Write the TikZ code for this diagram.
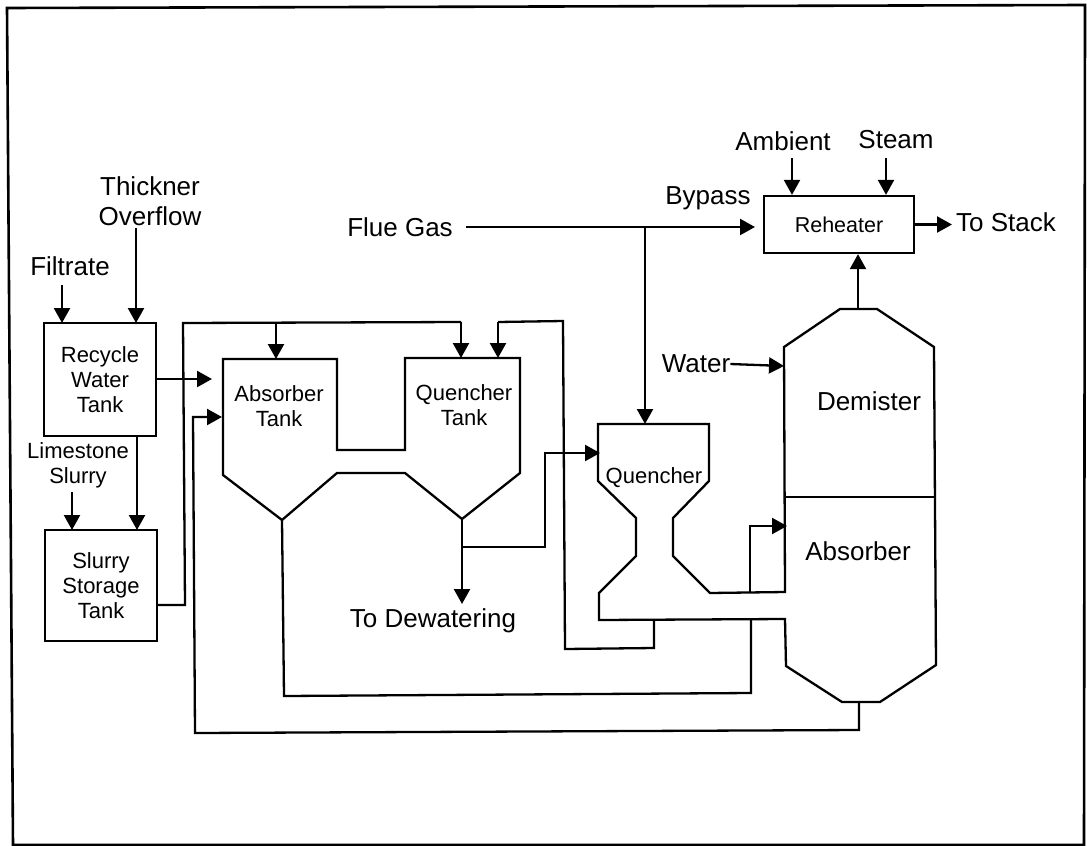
\documentclass[tikz,border=0pt]{standalone}
\usepackage{fontspec}
\setmainfont{Liberation Sans}
\usetikzlibrary{arrows.meta}

\tikzset{
  flow/.style={line width=2.3pt,-{Triangle[length=15pt,width=16pt]}},
  pipe/.style={line width=2.3pt,line join=miter},
  vessel/.style={line width=2.3pt,line join=miter},
  biglabel/.style={inner sep=0pt,align=center,font=\fontsize{26}{30}\selectfont},
  smalllabel/.style={inner sep=0pt,align=center,font=\fontsize{22}{25}\selectfont},
  unitbox/.style={draw,line width=2.3pt,inner sep=0pt,smalllabel},
}

\begin{document}
\begin{tikzpicture}[x=1pt,y=-1pt]
  \useasboundingbox (0,0) rectangle (1087,846);
  % frame
  \draw[line width=2.6pt] (7,8) -- (1085,5) -- (1084,845) -- (13,845) -- cycle;

  % boxes
  \node[unitbox,minimum width=112pt,minimum height=113pt] (recycle) at (100,379.5) {Recycle\\Water\\Tank};
  \node[unitbox,minimum width=112pt,minimum height=111pt] (storage) at (101,585.5) {Slurry\\Storage\\Tank};
  \node[unitbox,font=\fontsize{21.5}{25}\selectfont,minimum width=150pt,minimum height=57pt] (reheater) at (839,224.5) {Reheater};

  % vessels
  \draw[vessel] (223,359) -- (337,359) -- (337,450) -- (405,450) -- (405,358) -- (520,358)
    -- (520,473) -- (462,519) -- (405,473) -- (337,473) -- (282,520) -- (223,475) -- cycle;
  \draw[vessel] (598,424) -- (709,424) -- (709,481) -- (673,518) -- (673,556) -- (710,593) -- (785,592)
    -- (784,347) -- (840,309) -- (877,309) -- (934,347) -- (936,665) -- (880,702) -- (842,702)
    -- (786,666) -- (785,619) -- (599,620) -- (599,593) -- (636,556) -- (636,518) -- (598,481) -- cycle;
  \draw[vessel] (784,497) -- (934,497);

  % labels
  \node[biglabel] (thickner) at (150,201) {Thickner\\Overflow};
  \node[biglabel] (filtrate) at (70,266) {Filtrate};
  \node[biglabel] (fluegas) at (400,227) {Flue Gas};
  \node[biglabel] (bypass) at (708,198) {Bypass};
  \node[biglabel] (ambient) at (783,141) {Ambient};
  \node[biglabel] (steam) at (896,140) {Steam};
  \node[biglabel] (tostack) at (1006,222) {To Stack};
  \node[biglabel] (water) at (696,364) {Water};
  \node[biglabel] (demister) at (869,401) {Demister};
  \node[biglabel] (absorber) at (858,551) {Absorber};
  \node[biglabel] (dewatering) at (433,621) {To Dewatering};
  \node[smalllabel] (limestone) at (78,465) {Limestone\\Slurry};
  \node[smalllabel] (abstank) at (279,406) {Absorber\\Tank};
  \node[smalllabel] (quetank) at (464,405) {Quencher\\Tank};
  \node[smalllabel] (quencher) at (654,478) {Quencher};

  % connector ends
  \coordinate (filtratetop) at (62,285);
  \coordinate (filtratein) at (62,323);
  \coordinate (thicktop) at (136,228);
  \coordinate (thickin) at (136,323);
  \coordinate (limetop) at (72,492);
  \coordinate (limein) at (72,530);
  \coordinate (slurryin) at (137,530);
  \coordinate (recycleout) at (157,379);
  \coordinate (recycletip) at (212,379);
  \coordinate (storeout) at (157,605);
  \coordinate (absin1) at (276,359);
  \coordinate (absfeed) at (276,323);
  \coordinate (absin2) at (222,417);
  \coordinate (quetankin1) at (461,358);
  \coordinate (quetankin2) at (498,358);
  \coordinate (quefeed1) at (461,322);
  \coordinate (quefeed2) at (498,322);
  \coordinate (abstee) at (282,520);
  \coordinate (quetee) at (462,519);
  \coordinate (quebranch) at (462,547);
  \coordinate (dewatertip) at (462,604);
  \coordinate (flueout) at (466,227);
  \coordinate (bypasstip) at (755,227);
  \coordinate (bypasstee) at (645,227);
  \coordinate (quein1) at (645,424);
  \coordinate (quein2) at (600,453);
  \coordinate (queout) at (654,620);
  \coordinate (tailtee) at (750,592);
  \coordinate (towerin) at (787,526);
  \coordinate (towerwater) at (784,366);
  \coordinate (towertop) at (858,309);
  \coordinate (towerbot) at (859,702);
  \coordinate (towerout) at (751,620);
  \coordinate (ambienttop) at (792,158);
  \coordinate (steamtop) at (886,158);
  \coordinate (stacktip) at (952,224.5);

  % streams in and out
  \draw[flow] (filtratetop) -- (filtratein);
  \draw[flow] (thicktop) -- (thickin);
  \draw[flow] (limetop) -- (limein);
  \draw[flow] (recycle.south -| slurryin) -- (slurryin);
  \draw[flow] (recycleout) -- (recycletip);
  \draw[flow] (quetee) -- (dewatertip);
  \draw[flow] (water.east) -- (towerwater);
  \draw[flow] (towertop) -- (reheater.south -| towertop);
  \draw[flow] (ambienttop) -- (reheater.north -| ambienttop);
  \draw[flow] (steamtop) -- (reheater.north -| steamtop);
  \draw[flow] (reheater.east) -- (stacktip);
  \draw[flow] (flueout) -- (bypasstip);
  \draw[flow] (bypasstee) -- (quein1);

  % recycle lines
  \draw[pipe] (storeout) -- (185,605) -- (183,323) -- (quefeed1);
  \draw[flow] (absfeed) -- (absin1);
  \draw[flow] (quefeed1) -- (quetankin1);
  \draw[pipe] (queout) -- (654,648) -- (565,649) -- (563,321) -- (quefeed2);
  \draw[flow] (quefeed2) -- (quetankin2);
  \draw[flow] (quebranch) -- (545,547) -- (545,453) -- (quein2);
  \draw[pipe] (abstee) -- (284,696) -- (751,693) -- (towerout);
  \draw[flow] (towerbot) -- (859,730) -- (195,733) -- (193,417) -- (absin2);
  \draw[flow] (tailtee) -- (750,526) -- (towerin);
\end{tikzpicture}
\end{document}
